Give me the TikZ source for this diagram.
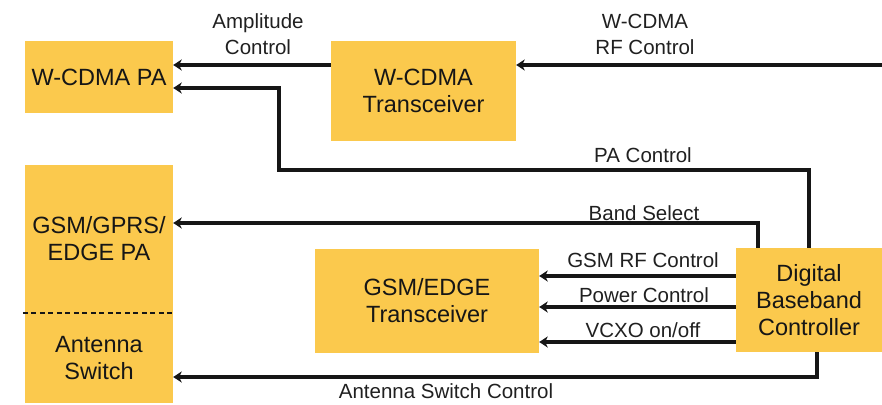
\documentclass[tikz,border=0pt]{standalone}
\usepackage{fontspec}
\setmainfont{Liberation Sans}
\usetikzlibrary{arrows.meta}
\definecolor{boxfill}{RGB}{251,201,77}
\definecolor{ink}{RGB}{22,22,22}
\definecolor{labelink}{RGB}{32,32,32}
\begin{document}
\begin{tikzpicture}[x=1pt,y=-1pt,
  box/.style={fill=boxfill, draw=none, inner sep=0pt, align=center,
    font=\fontsize{23.5}{27}\selectfont, text=ink},
  arr/.style={draw=ink, line width=3.2pt,
    -{Stealth[length=8.5pt,width=11pt,inset=2.5pt]}},
  lbl/.style={font=\fontsize{20.5}{26}\selectfont, text=labelink,
    anchor=base, inner sep=0pt},
  divider/.style={draw=ink, line width=1.8pt, dash pattern=on 5pt off 3.5pt},
]
\useasboundingbox (0,0) rectangle (882,404);

% boxes
\node[box, minimum width=148pt, minimum height=72pt] (wpa) at (99,77) {W-CDMA PA};
\node[box, minimum width=185pt, minimum height=100pt] (wt) at (423.5,91) {W-CDMA\\Transceiver};
\node[box, minimum width=148pt, minimum height=148pt] (gsmpa) at (99,239) {GSM/GPRS/\\EDGE PA};
\node[box, minimum width=148pt, minimum height=90pt] (antsw) at (99,358) {Antenna\\Switch};
\node[box, minimum width=224pt, minimum height=104pt] (gsmt) at (427,301) {GSM/EDGE\\Transceiver};
\node[box, minimum width=146pt, minimum height=104pt] (dbc) at (809,300) {Digital\\Baseband\\Controller};

\draw[divider] ([xshift=-2pt]gsmpa.south west) -- ([xshift=2pt]gsmpa.south east);

% labels
\node[lbl] (lamp1) at (258,29) {Amplitude};
\node[lbl] (lamp2) at (258,55) {Control};
\node[lbl] (lrf1) at (645,29) {W-CDMA};
\node[lbl] (lrf2) at (645,55) {RF Control};
\node[lbl] (lpa) at (643,162) {PA Control};
\node[lbl] (lbs) at (644,220) {Band Select};
\node[lbl] (lgsm) at (643,267) {GSM RF Control};
\node[lbl] (lpow) at (644,302) {Power Control};
\node[lbl] (lvc) at (643,337) {VCXO on/off};
\node[lbl] (lasc) at (446,398) {Antenna Switch Control};

% connectors
\coordinate (rfin) at (882,65);
\draw[arr] (rfin) -- (wt.east |- rfin);
\draw[arr] (wt.west |- rfin) -- (wpa.east |- rfin);

\coordinate (pabend) at (279,170);
\coordinate (pain) at (173,88);
\draw[arr] (dbc.north) |- (pabend) |- (wpa.east |- pain);

\coordinate (bsy) at (758,223);
\draw[arr] (dbc.north -| bsy) |- (gsmpa.east |- bsy);

\coordinate (asy) at (817,377);
\draw[arr] (dbc.south -| asy) |- (antsw.east |- asy);

\coordinate (g1) at (0,276);
\coordinate (g2) at (0,307);
\coordinate (g3) at (0,342);
\draw[arr] (dbc.west |- g1) -- (gsmt.east |- g1);
\draw[arr] (dbc.west |- g2) -- (gsmt.east |- g2);
\draw[arr] (dbc.west |- g3) -- (gsmt.east |- g3);
\end{tikzpicture}
\end{document}
